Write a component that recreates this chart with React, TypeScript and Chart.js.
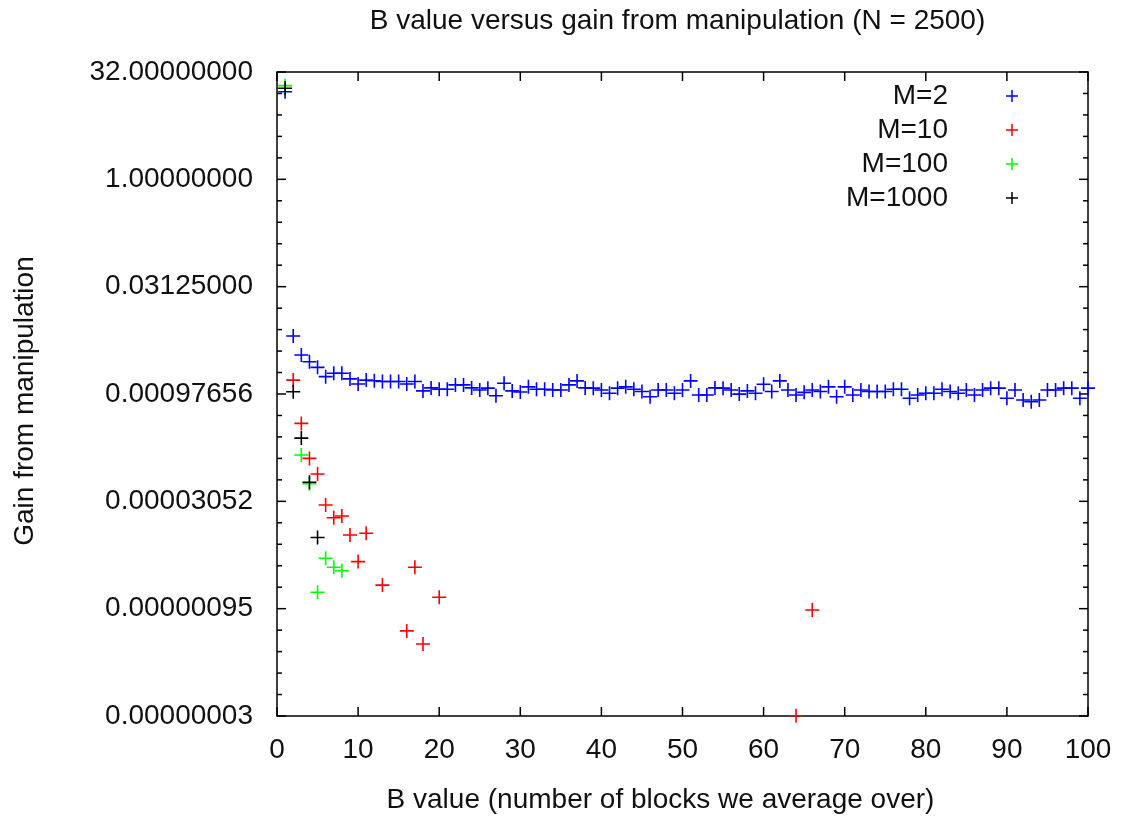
import React, { useEffect, useRef } from 'react';
import { Chart, registerables } from 'chart.js';

Chart.register(...registerables);

const TITLE = 'B value versus gain from manipulation (N = 2500)';
const X_TITLE = 'B value (number of blocks we average over)';
const Y_TITLE = 'Gain from manipulation';

const SERIES_LABELS = ['M=2', 'M=10', 'M=100', 'M=1000'];
const SERIES_COLORS = ['#0000ff', '#ff0000', '#00ff00', '#000000'];

const B_M2 = [
  1, 2, 3, 4, 5, 6, 7, 8, 9, 10, 11, 12, 13, 14, 15, 16, 17, 18, 19, 20,
  21, 22, 23, 24, 25, 26, 27, 28, 29, 30, 31, 32, 33, 34, 35, 36, 37, 38, 39, 40,
  41, 42, 43, 44, 45, 46, 47, 48, 49, 50, 51, 52, 53, 54, 55, 56, 57, 58, 59, 60,
  61, 62, 63, 64, 65, 66, 67, 68, 69, 70, 71, 72, 73, 74, 75, 76, 77, 78, 79, 80,
  81, 82, 83, 84, 85, 86, 87, 88, 89, 90, 91, 92, 93, 94, 95, 96, 97, 98, 99, 100,
];
const GAIN_M2 = [
  16.9, 0.00635, 0.00344, 0.00276, 0.00231, 0.00171, 0.00191, 0.00191, 0.00159, 0.00135,
  0.00153, 0.0015, 0.00146, 0.00146, 0.00146, 0.00135, 0.00146, 0.00108, 0.00119, 0.00114,
  0.00114, 0.00131, 0.00131, 0.00119, 0.00111, 0.00118, 0.000925, 0.00138, 0.00108, 0.00104,
  0.00123, 0.00114, 0.00114, 0.00111, 0.00111, 0.00131, 0.00149, 0.00119, 0.00118, 0.00111,
  0.001, 0.00118, 0.00123, 0.00114, 0.00106, 0.000895, 0.00111, 0.00111, 0.001, 0.00111,
  0.00149, 0.000945, 0.000945, 0.00119, 0.00118, 0.00111, 0.000973, 0.00108, 0.001, 0.00134,
  0.00106, 0.00149, 0.00111, 0.000945, 0.00103, 0.00111, 0.00106, 0.00123, 0.000895, 0.00123,
  0.000945, 0.00111, 0.00106, 0.00106, 0.00106, 0.00114, 0.00114, 0.00085, 0.000945, 0.001,
  0.001, 0.00114, 0.00106, 0.001, 0.00111, 0.000945, 0.00111, 0.00118, 0.00118, 0.00085,
  0.00111, 0.000805, 0.000762, 0.000805, 0.00111, 0.00111, 0.00118, 0.00118, 0.00085, 0.00118,
];

const B_M10 = [2, 3, 4, 5, 6, 7, 8, 9, 10, 11, 13, 16, 17, 18, 20, 64, 66];
const GAIN_M10 = [
  0.00153, 0.000378, 0.000122, 7.36e-5, 2.71e-5, 1.8e-5, 1.9e-5, 1.03e-5, 4.36e-6,
  1.09e-5, 2.04e-6, 4.65e-7, 3.63e-6, 3.05e-7, 1.38e-6, 3.0e-8, 9.14e-7,
];

const B_M100 = [1, 3, 4, 5, 6, 7, 8];
const GAIN_M100 = [20.6, 0.000136, 5.4e-5, 1.62e-6, 4.86e-6, 3.63e-6, 3.24e-6];

const B_M1000 = [1, 2, 3, 4, 5];
const GAIN_M1000 = [18.9, 0.00105, 0.000235, 5.66e-5, 9.5e-6];

const X_TICKS = [0, 10, 20, 30, 40, 50, 60, 70, 80, 90, 100];
const Y_TICK_EXPONENTS = [
  -25, -24, -23, -22, -21, -20, -19, -18, -17, -16, -15, -14, -13, -12, -11, -10,
  -9, -8, -7, -6, -5, -4, -3, -2, -1, 0, 1, 2, 3, 4, 5,
];
const Y_LABEL_EVERY = 5;

const FONT_FAMILY = "'Liberation Sans', Arial, sans-serif";
const FONT_SIZE = 28;
const TEXT_COLOR = '#111111';

const toPoints = (xs: number[], ys: number[]) => xs.map((x, i) => ({ x, y: ys[i] }));

const SERIES = [
  toPoints(B_M2, GAIN_M2),
  toPoints(B_M10, GAIN_M10),
  toPoints(B_M100, GAIN_M100),
  toPoints(B_M1000, GAIN_M1000),
];

function drawCross(ctx: CanvasRenderingContext2D, x: number, y: number, r: number) {
  ctx.beginPath();
  ctx.moveTo(x - r, y);
  ctx.lineTo(x + r, y);
  ctx.moveTo(x, y - r);
  ctx.lineTo(x, y + r);
  ctx.stroke();
}

const gnuplotLook = {
  id: 'gnuplotLook',
  beforeDatasetsDraw(chart: any) {
    const { ctx, chartArea: a, scales } = chart;
    ctx.save();
    ctx.strokeStyle = '#000000';
    ctx.lineWidth = 1.5;
    ctx.strokeRect(a.left, a.top, a.right - a.left, a.bottom - a.top);
    const line = (x1: number, y1: number, x2: number, y2: number) => {
      ctx.beginPath();
      ctx.moveTo(x1, y1);
      ctx.lineTo(x2, y2);
      ctx.stroke();
    };
    const ys = scales.y;
    ys.ticks.forEach((t: any) => {
      const e = Math.round(Math.log2(t.value));
      const len = e % Y_LABEL_EVERY === 0 ? 9 : 5;
      const py = ys.getPixelForValue(t.value);
      line(a.left, py, a.left + len, py);
      line(a.right - len, py, a.right, py);
    });
    const xs = scales.x;
    xs.ticks.forEach((t: any) => {
      const px = xs.getPixelForValue(t.value);
      line(px, a.bottom, px, a.bottom - 9);
      line(px, a.top, px, a.top + 9);
    });
    ctx.restore();
  },
  afterDraw(chart: any) {
    const { ctx, chartArea: a } = chart;
    ctx.save();
    ctx.fillStyle = TEXT_COLOR;
    ctx.font = `${FONT_SIZE}px ${FONT_FAMILY}`;
    ctx.textBaseline = 'middle';
    ctx.textAlign = 'center';
    const cx = (a.left + a.right) / 2;
    ctx.fillText(TITLE, cx - 5, a.top - 51);
    ctx.fillText(X_TITLE, cx - 22, a.bottom + 84);
    ctx.save();
    ctx.translate(25, (a.top + a.bottom) / 2 + 7);
    ctx.rotate(-Math.PI / 2);
    ctx.fillText(Y_TITLE, 0, 0);
    ctx.restore();

    // legend (gnuplot style: text right-aligned, marker to the right)
    const ds = chart.data.datasets;
    ds.forEach((d: any, i: number) => {
      const rowY = a.top + 24 + 34 * i;
      ctx.fillStyle = TEXT_COLOR;
      ctx.textAlign = 'right';
      ctx.fillText(d.label, a.right - 140, rowY);
      ctx.strokeStyle = d.borderColor;
      ctx.lineWidth = 1.5;
      drawCross(ctx, a.right - 76, rowY, 6);
    });
    ctx.restore();
  },
};

export default function App() {
  const canvasRef = useRef<HTMLCanvasElement | null>(null);

  useEffect(() => {
    if (!canvasRef.current) return;
    Chart.defaults.font.family = FONT_FAMILY;
    const chart = new Chart(canvasRef.current, {
      type: 'scatter',
      data: {
        datasets: SERIES.map((pts, i) => ({
          label: SERIES_LABELS[i],
          data: pts,
          borderColor: SERIES_COLORS[i],
          backgroundColor: SERIES_COLORS[i],
          pointStyle: 'cross',
          pointRadius: 7,
          pointHoverRadius: 7,
          borderWidth: 1.6,
          order: SERIES.length - i,
          clip: false as any,
        })),
      },
      plugins: [gnuplotLook],
      options: {
        animation: false,
        responsive: true,
        maintainAspectRatio: false,
        events: [],
        layout: { padding: { left: 0, right: 33, top: 72, bottom: 0 } },
        plugins: {
          legend: { display: false },
          title: { display: false },
          tooltip: { enabled: false },
        },
        scales: {
          x: {
            type: 'linear',
            min: 0,
            max: 100,
            grid: { display: false, drawTicks: false },
            border: { display: false },
            afterBuildTicks: (scale: any) => {
              scale.ticks = X_TICKS.map((v) => ({ value: v }));
            },
            afterFit: (scale: any) => {
              scale.height = 101;
              scale.paddingLeft = 0;
              scale.paddingRight = 0;
            },
            ticks: {
              color: TEXT_COLOR,
              font: { size: FONT_SIZE, family: FONT_FAMILY },
              padding: 17,
              maxRotation: 0,
              autoSkip: false,
            },
          },
          y: {
            type: 'logarithmic',
            min: Math.pow(2, Y_TICK_EXPONENTS[0]),
            max: Math.pow(2, Y_TICK_EXPONENTS[Y_TICK_EXPONENTS.length - 1]),
            grid: { display: false, drawTicks: false },
            border: { display: false },
            afterBuildTicks: (scale: any) => {
              scale.ticks = Y_TICK_EXPONENTS.map((e) => ({ value: Math.pow(2, e) }));
            },
            afterFit: (scale: any) => {
              scale.width = 277;
              scale.paddingTop = 0;
              scale.paddingBottom = 0;
            },
            ticks: {
              color: TEXT_COLOR,
              font: { size: FONT_SIZE, family: FONT_FAMILY },
              padding: 24,
              autoSkip: false,
              callback: (value: any) => {
                const v = Number(value);
                const e = Math.round(Math.log2(v));
                return e % Y_LABEL_EVERY === 0 ? v.toFixed(8) : '';
              },
            },
          },
        },
      },
    });
    return () => chart.destroy();
  }, []);

  return (
    <div style={{ position: 'fixed', left: 0, top: 0, width: 1121, height: 817, background: '#ffffff' }}>
      <canvas ref={canvasRef} />
    </div>
  );
}
